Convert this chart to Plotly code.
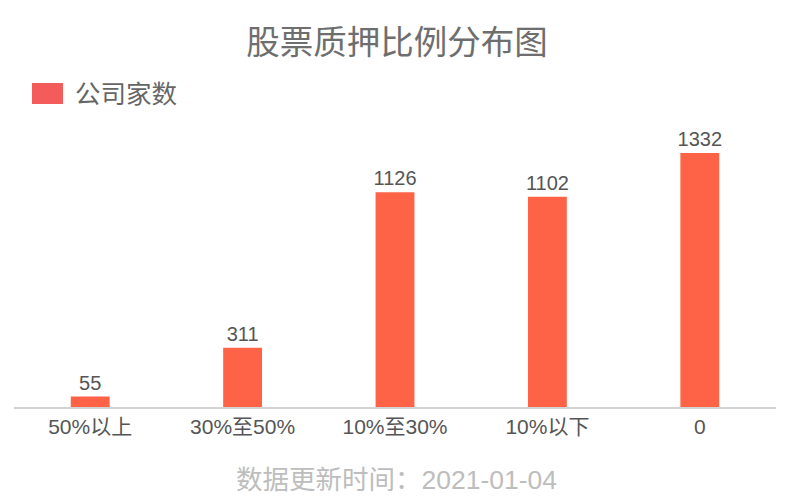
import plotly.graph_objects as go

categories = ['50%以上', '30%至50%', '10%至30%', '10%以下', '0']
company_counts = [55, 311, 1126, 1102, 1332]

title_text = '股票质押比例分布图'
series_name = '公司家数'
footer_text = '数据更新时间：2021-01-04'

font_family = 'Liberation Sans, Noto Sans CJK SC, sans-serif'

# the page body has an 8px margin, so the figure starts at (8, 8)
fig_w, fig_h = 792, 490

fig = go.Figure()

fig.add_trace(go.Bar(x=categories,
                     y=company_counts,
                     name=series_name,
                     marker=dict(color='#FF6347', line=dict(width=0)),
                     width=0.255,
                     text=company_counts,
                     textposition='outside',
                     constraintext='none',
                     cliponaxis=False,
                     textfont=dict(size=20, color='#555555', family=font_family),
                     showlegend=False))

# legend drawn by hand so the swatch is the same size as in the picture
fig.add_shape(type='rect', xref='paper', yref='paper',
              x0=(32 - 14) / 762, x1=(63 - 14) / 762,
              y0=(407 - 83) / 277, y1=(407 - 104) / 277,
              fillcolor='#F45B5B', line=dict(width=0))
fig.add_annotation(text=series_name, xref='paper', yref='paper',
                   x=(73 - 14) / 762, y=(407 - 94) / 277,
                   xanchor='left', yanchor='middle',
                   showarrow=False,
                   font=dict(size=25.5, color='#666666', family=font_family))

fig.add_annotation(text=footer_text, xref='paper', yref='paper',
                   x=(396 - 14) / 762, y=(407 - 480) / 277,
                   xanchor='center', yanchor='middle',
                   showarrow=False,
                   font=dict(size=26.5, color='#BDBDBD', family=font_family))

fig.update_layout(
    width=fig_w, height=fig_h,
    margin=dict(l=6, r=24, t=122, b=91, autoexpand=False),
    plot_bgcolor='white',
    paper_bgcolor='white',
    title=dict(text=title_text, x=(397 - 8) / fig_w, xanchor='center',
               y=1 - 34 / fig_h, yanchor='middle',
               font=dict(size=33.5, color='#6E6E6E', family=font_family)),
    font=dict(family=font_family),
)

fig.update_xaxes(showline=True, linecolor='#D3D3D3', linewidth=2,
                 ticks='', showgrid=False, automargin=False,
                 tickfont=dict(size=21, color='#555555', family=font_family))
fig.update_yaxes(visible=False, range=[0, 1332 * 277 / 254], showgrid=False,
                 automargin=False)

fig.write_html('out.html')
